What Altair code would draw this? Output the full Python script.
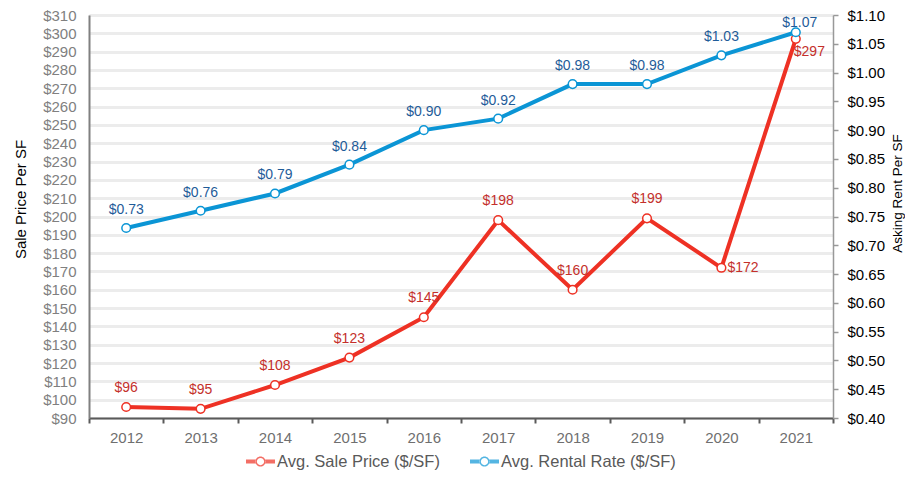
import altair as alt
import pandas as pd

years = ["2012", "2013", "2014", "2015", "2016", "2017", "2018", "2019", "2020", "2021"]
sale_price = [96, 95, 108, 123, 145, 198, 160, 199, 172, 297]
rental_rate = [0.73, 0.76, 0.79, 0.84, 0.90, 0.92, 0.98, 0.98, 1.03, 1.07]
series_names = ["Avg. Sale Price ($/SF)", "Avg. Rental Rate ($/SF)"]
left_ticks = list(range(90, 311, 10))
right_ticks = [0.40, 0.45, 0.50, 0.55, 0.60, 0.65, 0.70, 0.75, 0.80, 0.85, 0.90, 0.95, 1.00, 1.05, 1.10]

RED = "#ee3124"
BLUE = "#0b95d5"
RED_TXT = "#c4302b"
BLUE_TXT = "#1f5c99"
FONT = "Liberation Sans"

sale_df = pd.DataFrame({"year": years, "value": sale_price})
rent_df = pd.DataFrame({"year": years, "value": rental_rate})
legend_df = pd.DataFrame({"series": series_names})

x_enc = alt.X(
    "year:N",
    bandPosition=0.5,
    scale=alt.Scale(type="band", paddingInner=0, paddingOuter=0),
    axis=alt.Axis(
        title=None, tickBand="extent", labelAngle=0, labelColor="#6f6f6f", labelFontSize=15,
        labelFont=FONT, domainColor="#5a5a5a", domainWidth=2, tickColor="#5a5a5a",
        tickWidth=2, tickSize=5, labelPadding=7, grid=False,
    ),
)

left_y = alt.Y(
    "value:Q",
    scale=alt.Scale(domain=[90, 310], nice=False, zero=False),
    axis=alt.Axis(
        title="Sale Price Per SF", values=left_ticks, format="$,.0f",
        labelColor="#808080", labelFontSize=15, labelFont=FONT, ticks=False,
        labelPadding=13, domainColor="#808080", domainWidth=2,
        grid=True, gridColor="#ececec", gridWidth=3,
        titleFont=FONT, titleFontSize=15, titleFontWeight="normal", titleColor="#000000",
        titlePadding=14, titleY=184,
    ),
)

right_y = alt.Y(
    "value:Q",
    scale=alt.Scale(domain=[0.40, 1.10], nice=False, zero=False),
    axis=alt.Axis(
        title="Asking Rent Per SF", orient="right", values=right_ticks, format="$.2f",
        labelColor="#000000", labelFontSize=15, labelFont=FONT, tickSize=5,
        tickColor="#999999", tickWidth=1.5, labelPadding=9,
        domainColor="#999999", domainWidth=1.5, grid=False,
        titleFont=FONT, titleFontSize=13.5, titleFontWeight="normal", titleColor="#000000",
        titleAngle=270, titlePadding=20, titleY=178,
    ),
)

sale_base = alt.Chart(sale_df).encode(x=x_enc, y=left_y)
sale_line = sale_base.mark_line(color=RED, strokeWidth=4)
sale_pts = sale_base.mark_point(shape="circle", filled=True, fill="white", stroke=RED,
                                strokeWidth=1.5, size=75, opacity=1)
sale_lbl = sale_base.transform_filter(
    "datum.year != '2020' && datum.year != '2021'"
).mark_text(dy=-19, color=RED_TXT, fontSize=14, font=FONT).encode(
    text=alt.Text("value:Q", format="$,.0f"))
sale_lbl_2020 = sale_base.transform_filter("datum.year == '2020'").mark_text(
    dx=6, dy=0, align="left", color=RED_TXT, fontSize=14, font=FONT
).encode(text=alt.Text("value:Q", format="$,.0f"))
sale_lbl_2021 = sale_base.transform_filter("datum.year == '2021'").mark_text(
    dx=-2, dy=13, align="left", color=RED_TXT, fontSize=14, font=FONT
).encode(text=alt.Text("value:Q", format="$,.0f"))

rent_base = alt.Chart(rent_df).encode(x=x_enc, y=right_y)
rent_line = rent_base.mark_line(color=BLUE, strokeWidth=4)
rent_pts = rent_base.mark_point(shape="circle", filled=True, fill="white", stroke=BLUE,
                                strokeWidth=1.5, size=75, opacity=1)
rent_lbl = rent_base.transform_filter("datum.year != '2021'").mark_text(
    dy=-18, color=BLUE_TXT, fontSize=14, font=FONT
).encode(text=alt.Text("value:Q", format="$.2f"))
rent_lbl_2021 = rent_base.transform_filter("datum.year == '2021'").mark_text(
    dx=4, dy=-9, color=BLUE_TXT, fontSize=14, font=FONT
).encode(text=alt.Text("value:Q", format="$.2f"))

LEG_PATH = (
    "M-1,-0.14H-0.33V0.14H-1Z"
    "M0.33,-0.14H1V0.14H0.33Z"
    "M-0.35,0A0.35,0.35 0 1,0 0.35,0A0.35,0.35 0 1,0 -0.35,0Z"
    "M-0.25,0A0.25,0.25 0 1,1 0.25,0A0.25,0.25 0 1,1 -0.25,0Z"
)

legend_layer = alt.Chart(legend_df).transform_filter("false").mark_point(
    filled=True, shape=LEG_PATH, strokeWidth=0
).encode(
    fill=alt.Fill(
        "series:N",
        scale=alt.Scale(domain=series_names, range=[RED, BLUE]),
        legend=alt.Legend(
            title=None, orient="none", legendX=157, legendY=432, direction="horizontal",
            symbolType=LEG_PATH, symbolSize=841, symbolStrokeWidth=0,
            labelFontSize=16.5, labelFont=FONT, labelColor="#595959", labelLimit=400,
            labelOffset=2, columnPadding=30,
        ),
    )
)

left = alt.layer(sale_line, sale_pts, sale_lbl, sale_lbl_2020, sale_lbl_2021)
right = alt.layer(rent_line, rent_pts, rent_lbl, rent_lbl_2021)

chart = alt.layer(left, right, legend_layer).resolve_scale(y="independent").properties(
    width=744, height=403,
    autosize=alt.AutoSizeParams(type="none"),
    padding={"left": 81, "top": 7, "right": 72, "bottom": 52},
).configure_view(stroke=None).configure(background="white")

chart.save("out.html", embed_options={"renderer": "svg", "actions": False})
